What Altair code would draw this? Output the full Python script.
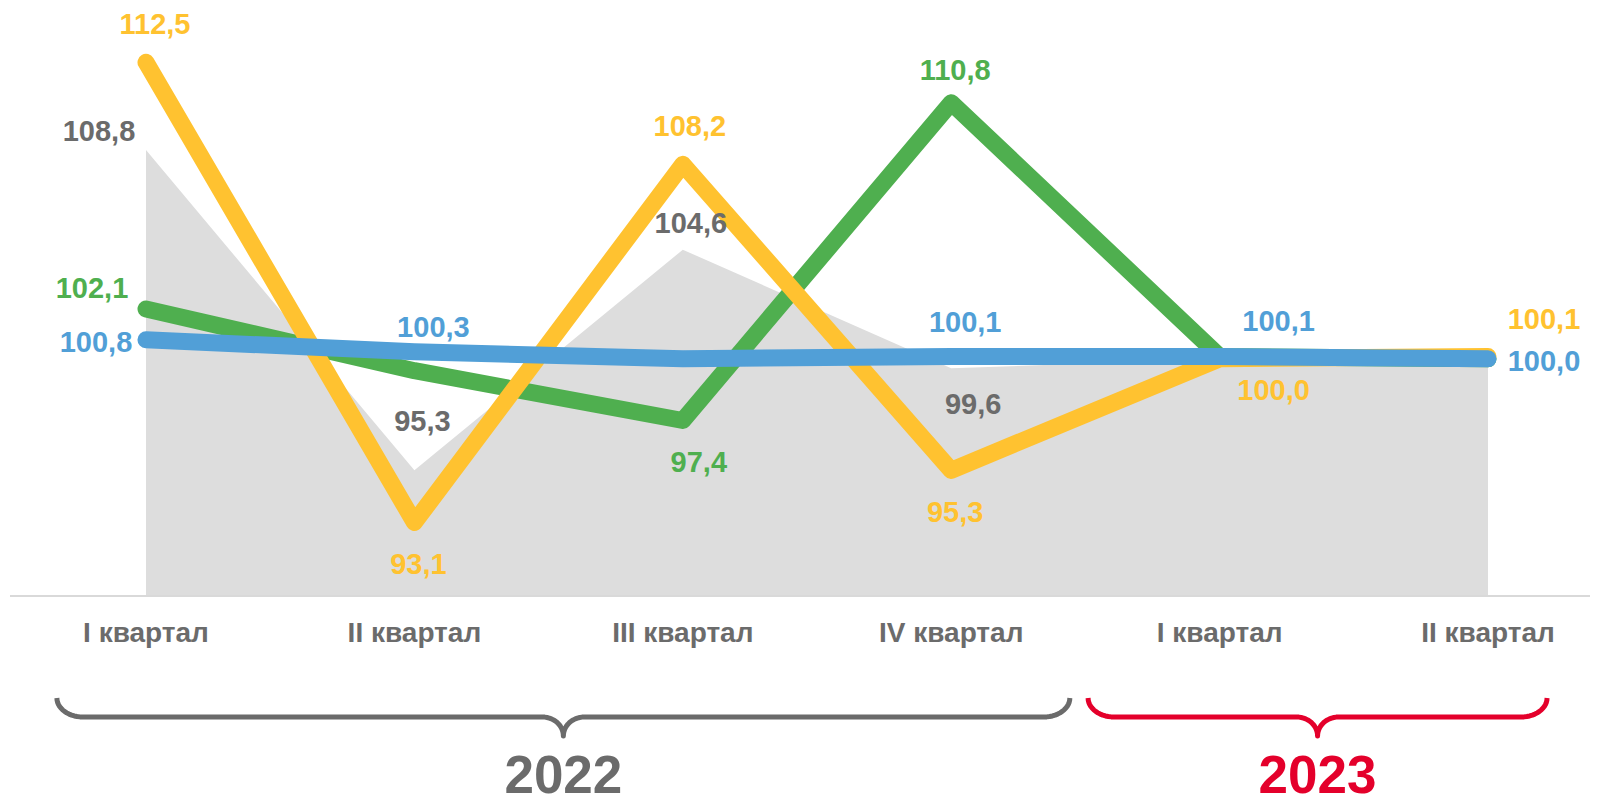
import math
import altair as alt
import pandas as pd

# ---------------- data ----------------
quarters = ["I квартал", "II квартал", "III квартал", "IV квартал", "I квартал", "II квартал"]
gray_vals = [108.8, 95.3, 104.6, 99.6, 100.0, 100.0]
yellow_vals = [112.5, 93.1, 108.2, 95.3, 100.0, 100.1]
green_vals = [102.1, 99.5, 97.4, 110.8, 100.1, 100.0]
blue_vals = [100.8, 100.3, 100.0, 100.1, 100.1, 100.0]

# which points carry a value label
gray_labelled = [True, True, True, True, False, False]
yellow_labelled = [True, True, True, True, True, True]
green_labelled = [True, False, True, True, False, False]
blue_labelled = [True, True, False, True, True, True]

years = ["2022", "2023"]

# ---------------- styles / layout ----------------
C_GRAY_AREA = "#DDDDDD"
C_GRAY_TEXT = "#6B6B6B"
C_YELLOW = "#FFC230"
C_GREEN = "#4FAF4F"
C_BLUE = "#519FD7"
C_RED = "#E4002B"
C_AXIS = "#D9D9D9"
YEAR_COLORS = [C_GRAY_TEXT, C_RED]
FONT = "Liberation Sans"

W, H = 1582, 796
PX_X = 268.4                 # pixels per quarter step
X0_PAGE = 146                # page x of first quarter
X_LEFT = (8 - X0_PAGE) / PX_X
X_RIGHT = X_LEFT + W / PX_X
PX_Y = 23.72                 # pixels per index point
Y_TOP = 114.79
Y_BOT = Y_TOP - H / PX_Y
BASE = 90.0


def py2v(py):
    return Y_TOP - (py - 8) / PX_Y


def px2i(px):
    return (px - X0_PAGE) / PX_X


def i2px(i):
    return X0_PAGE + i * PX_X


# label offsets in pixels (dx, dy) for labelled points, in order
label_offsets = {
    "gray": [(-47, -18), (8, -48), (8, -26), (22, 37)],
    "yellow": [(9, -37), (4, 43), (7, -37), (4, 43), (54, 32), (56, -36)],
    "green": [(-54, -20), (16, 43), (4, -32)],
    "blue": [(-50, 3), (19, -24), (14, -33), (59, -34), (56, 3)],
}
series_vals = {"gray": gray_vals, "yellow": yellow_vals, "green": green_vals, "blue": blue_vals}
series_lab = {"gray": gray_labelled, "yellow": yellow_labelled, "green": green_labelled, "blue": blue_labelled}
series_text_color = {"gray": C_GRAY_TEXT, "yellow": C_YELLOW, "green": C_GREEN, "blue": C_BLUE}

# ---------------- tables ----------------
idx = list(range(len(quarters)))
lines_df = pd.DataFrame({
    "i": idx * 4,
    "value": gray_vals + yellow_vals + green_vals + blue_vals,
    "series": ["gray"] * 6 + ["yellow"] * 6 + ["green"] * 6 + ["blue"] * 6,
})
lines_df["base"] = BASE

lab_rows = []
for s, vals in series_vals.items():
    offs = iter(label_offsets[s])
    for i, (v, show) in enumerate(zip(vals, series_lab[s])):
        if not show:
            continue
        dx, dy = next(offs)
        lab_rows.append({
            "series": s,
            "lx": i + dx / PX_X,
            "ly": v - dy / PX_Y,
            "text": f"{v:.1f}".replace(".", ","),
        })
labels_df = pd.DataFrame(lab_rows)

cat_df = pd.DataFrame({"i": idx, "q": quarters, "y": py2v(634)})

# braces
brace_rows = []
TOP, BAR, TIP = 698, 717, 736
RX_END, RX_MID = 26, 21
N = 14
spans = [(-0.332, 3.442), (3.51, 5.22)]
for k, (yr, (a, b)) in enumerate(zip(years, spans)):
    x0, x1 = i2px(a), i2px(b)
    xc = (x0 + x1) / 2
    pts = []
    for j in range(N + 1):
        t = j / N * math.pi / 2
        pts.append((x0 + RX_END * (1 - math.cos(t)), TOP + (BAR - TOP) * math.sin(t)))
    for j in range(N + 1):
        t = j / N * math.pi / 2
        pts.append((xc - RX_MID + RX_MID * math.sin(t), BAR + (TIP - BAR) * (1 - math.cos(t))))
    for j in range(N + 1):
        t = j / N * math.pi / 2
        pts.append((xc + RX_MID * (1 - math.cos(t)), TIP - (TIP - BAR) * math.sin(t)))
    for j in range(N + 1):
        t = j / N * math.pi / 2
        pts.append((x1 - RX_END + RX_END * math.sin(t), BAR - (BAR - TOP) * (1 - math.cos(t))))
    for o, (px, py) in enumerate(pts):
        brace_rows.append({"year": yr, "o": o, "bx": px2i(px), "by": py2v(py)})
brace_df = pd.DataFrame(brace_rows)

year_df = pd.DataFrame({
    "year": years,
    "x": [(a + b) / 2 for a, b in spans],
    "y": py2v(793),
})

# ---------------- chart ----------------
xs = alt.Scale(domain=[X_LEFT, X_RIGHT], nice=False, zero=False)
ys = alt.Scale(domain=[Y_BOT, Y_TOP], nice=False, zero=False)

area = alt.Chart(lines_df).transform_filter(alt.datum.series == "gray").mark_area(
    color=C_GRAY_AREA, opacity=1
).encode(
    x=alt.X("i:Q", scale=xs, axis=None),
    y=alt.Y("value:Q", scale=ys, axis=None),
    y2="base:Q",
)

rule = alt.Chart(pd.DataFrame({"a": [px2i(10)], "b": [X_RIGHT], "y": [BASE]})).mark_rule(
    color=C_AXIS, strokeWidth=2
).encode(
    x=alt.X("a:Q", scale=xs, axis=None),
    x2="b:Q",
    y=alt.Y("y:Q", scale=ys, axis=None),
)


def line_layer(name, color):
    return alt.Chart(lines_df).transform_filter(alt.datum.series == name).mark_line(
        color=color, strokeWidth=17, strokeCap="round", strokeJoin="round"
    ).encode(
        x=alt.X("i:Q", scale=xs, axis=None),
        y=alt.Y("value:Q", scale=ys, axis=None),
    )


labels = alt.Chart(labels_df).mark_text(
    font=FONT, fontSize=29, fontWeight="bold", align="center", baseline="middle"
).encode(
    x=alt.X("lx:Q", scale=xs, axis=None),
    y=alt.Y("ly:Q", scale=ys, axis=None),
    text="text:N",
    color=alt.Color(
        "series:N",
        scale=alt.Scale(domain=list(series_text_color.keys()), range=list(series_text_color.values())),
        legend=None,
    ),
)

cats = alt.Chart(cat_df).mark_text(
    font=FONT, fontSize=28, fontWeight="bold", align="center", baseline="middle", color=C_GRAY_TEXT
).encode(
    x=alt.X("i:Q", scale=xs, axis=None),
    y=alt.Y("y:Q", scale=ys, axis=None),
    text="q:N",
)

braces = alt.Chart(brace_df).mark_line(strokeWidth=5, strokeCap="butt", strokeJoin="round").encode(
    x=alt.X("bx:Q", scale=xs, axis=None),
    y=alt.Y("by:Q", scale=ys, axis=None),
    order="o:Q",
    color=alt.Color("year:N", scale=alt.Scale(domain=years, range=YEAR_COLORS), legend=None),
    detail="year:N",
)

year_text = alt.Chart(year_df).mark_text(
    font=FONT, fontSize=53, fontWeight="bold", align="center", baseline="alphabetic"
).encode(
    x=alt.X("x:Q", scale=xs, axis=None),
    y=alt.Y("y:Q", scale=ys, axis=None),
    text="year:N",
    color=alt.Color("year:N", scale=alt.Scale(domain=years, range=YEAR_COLORS), legend=None),
)

chart = alt.layer(
    area, rule,
    line_layer("green", C_GREEN),
    line_layer("yellow", C_YELLOW),
    line_layer("blue", C_BLUE),
    labels, cats, braces, year_text,
).resolve_scale(color="independent").properties(
    width=W, height=H, padding=0, autosize=alt.AutoSizeParams(type="none")
).configure_view(strokeWidth=0)

chart.save("out.html", embed_options={"renderer": "svg", "actions": False})
